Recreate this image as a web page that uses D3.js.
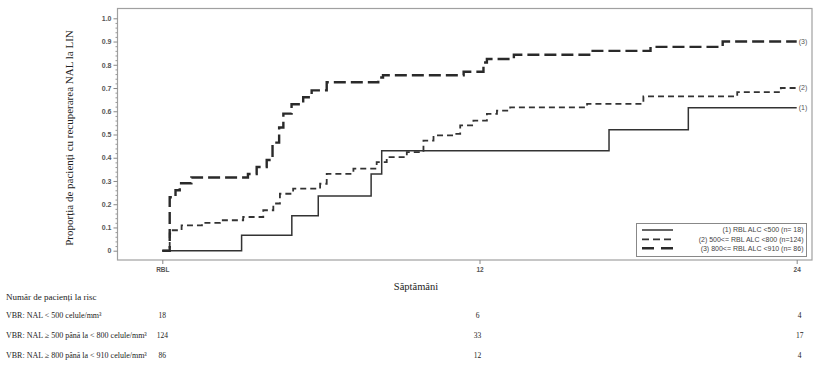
<!DOCTYPE html>
<html>
<head>
<meta charset="utf-8">
<script src="https://cdn.jsdelivr.net/npm/d3@7"></script>
<style>
  html, body { margin: 0; padding: 0; background: #fff; }
  svg { display: block; }
</style>
</head>
<body>
<svg id="chart" width="820" height="368"></svg>
<script>
// ---- Data ----
const xTicks = [0, 12, 24];
const xTickLabels = ["RBL", "12", "24"];
const yTicks = [0, 0.1, 0.2, 0.3, 0.4, 0.5, 0.6, 0.7, 0.8, 0.9, 1.0];
const yTickLabels = ["0", "0.1", "0.2", "0.3", "0.4", "0.5", "0.6", "0.7", "0.8", "0.9", "1.0"];

const series1Weeks = [0, 3, 4.9, 5.9, 7.9, 8.3, 16.9, 19.9, 24];
const series1Values = [0, 0.067, 0.15, 0.235, 0.33, 0.43, 0.52, 0.615, 0.615];

const series2Weeks = [0, 0.28, 0.35, 0.73, 1.5, 2.18, 3.06, 3.82, 4.2, 4.45, 4.95, 5.97, 6.22, 7.23, 8.11, 8.49, 9.25, 9.88, 10.26, 11.02, 11.27, 11.77, 12.28, 12.66, 13.16, 16.07, 18.2, 21.75, 23.4, 24];
const series2Values = [0, 0.074, 0.088, 0.109, 0.12, 0.131, 0.145, 0.174, 0.203, 0.245, 0.267, 0.288, 0.331, 0.353, 0.381, 0.403, 0.424, 0.474, 0.496, 0.503, 0.539, 0.56, 0.589, 0.603, 0.617, 0.632, 0.664, 0.682, 0.70, 0.70];

const series3Weeks = [0, 0.28, 0.5, 0.66, 1.1, 3.24, 3.57, 3.95, 4.17, 4.42, 4.58, 4.89, 5.33, 5.65, 6.22, 8.17, 8.35, 11.4, 12.15, 12.28, 13.3, 16.2, 18.47, 21.2, 24];
const series3Values = [0, 0.23, 0.26, 0.29, 0.315, 0.33, 0.36, 0.39, 0.465, 0.53, 0.59, 0.63, 0.66, 0.69, 0.725, 0.745, 0.755, 0.77, 0.81, 0.825, 0.843, 0.86, 0.877, 0.9, 0.9];

const seriesNames = ["(1) RBL ALC <500 (n= 18)", "(2) 500<= RBL ALC <800 (n=124)", "(3) 800<= RBL ALC <910 (n= 86)"];
const endLabels = ["(1)", "(2)", "(3)"];

const riskTitle = "Număr de pacienți la risc";
const riskRowLabels = [
  "VBR: NAL < 500 celule/mm³",
  "VBR: NAL ≥ 500 până la < 800 celule/mm³",
  "VBR: NAL ≥ 800 până la < 910 celule/mm³"
];
const riskWeeks = [0, 12, 24];
const riskCounts = [
  [18, 6, 4],
  [124, 33, 17],
  [86, 12, 4]
];

const yTitle = "Proporția de pacienți cu recuperarea NAL la LIN";
const xTitle = "Săptămâni";

// ---- Layout ----
const svg = d3.select("#chart");
svg.append("rect").attr("width", 820).attr("height", 368).attr("fill", "#fff");

const frame = { left: 117.5, top: 8.5, right: 812, bottom: 260 };
const x = d3.scaleLinear().domain([0, 24]).range([162.3, 796.7]);
const y = d3.scaleLinear().domain([0, 1]).range([250.7, 18.3]);

const tickFont = "'Liberation Sans', Arial, sans-serif";
const serif = "'Liberation Serif', 'Times New Roman', serif";

// Frame
svg.append("rect")
  .attr("x", frame.left).attr("y", frame.top)
  .attr("width", frame.right - frame.left).attr("height", frame.bottom - frame.top)
  .attr("fill", "none").attr("stroke", "#a0a0a0").attr("stroke-width", 1.2);

// Y axis (major)
const yAxis = d3.axisLeft(y).tickValues(yTicks)
  .tickFormat((d, i) => yTickLabels[i]).tickSize(4).tickPadding(2);
const gy = svg.append("g").attr("transform", `translate(${frame.left},0)`).call(yAxis);
gy.select(".domain").remove();
gy.selectAll("line").attr("stroke", "#888");
gy.selectAll("text").attr("font-family", tickFont).attr("font-size", 7)
  .attr("font-weight", "bold").attr("fill", "#555");

// Y axis (minor)
const minor = d3.range(0, 1.0001, 0.02).filter(v => Math.abs(v * 10 - Math.round(v * 10)) > 1e-6);
const yMinor = d3.axisLeft(y).tickValues(minor).tickFormat("").tickSize(2);
const gym = svg.append("g").attr("transform", `translate(${frame.left},0)`).call(yMinor);
gym.select(".domain").remove();
gym.selectAll("line").attr("stroke", "#999");

// X axis
const xAxis = d3.axisBottom(x).tickValues(xTicks)
  .tickFormat((d, i) => xTickLabels[i]).tickSize(4).tickPadding(3);
const gx = svg.append("g").attr("transform", `translate(0,${frame.bottom})`).call(xAxis);
gx.select(".domain").remove();
gx.selectAll("line").attr("stroke", "#888");
gx.selectAll("text").attr("font-family", tickFont).attr("font-size", 6.5)
  .attr("font-weight", "bold").attr("fill", "#555");

// Lines
const styles = [
  { dash: null, width: 1.5, color: "#333" },
  { dash: "6,4", width: 1.8, color: "#333" },
  { dash: "12,5", width: 2.4, color: "#2a2a2a" }
];
const allSeries = [
  series1Weeks.map((w, i) => [w, series1Values[i]]),
  series2Weeks.map((w, i) => [w, series2Values[i]]),
  series3Weeks.map((w, i) => [w, series3Values[i]])
];
const line = d3.line().x(d => x(d[0])).y(d => y(d[1])).curve(d3.curveStepAfter);

allSeries.forEach((s, i) => {
  svg.append("path").datum(s)
    .attr("d", line)
    .attr("fill", "none")
    .attr("stroke", styles[i].color)
    .attr("stroke-width", styles[i].width)
    .attr("stroke-dasharray", styles[i].dash);
  const last = s[s.length - 1];
  svg.append("text")
    .attr("x", x(last[0]) + 2).attr("y", y(last[1]))
    .attr("dy", "0.35em")
    .attr("font-family", tickFont).attr("font-size", 7)
    .attr("fill", "#555")
    .text(endLabels[i]);
});

// Legend
const lg = svg.append("g");
lg.append("rect").attr("x", 636.5).attr("y", 223.5).attr("width", 170).attr("height", 33)
  .attr("fill", "#fff").attr("stroke", "#888").attr("stroke-width", 1);
const legendY = [230, 239.3, 248.3];
seriesNames.forEach((name, i) => {
  lg.append("line")
    .attr("x1", 642).attr("x2", 673).attr("y1", legendY[i]).attr("y2", legendY[i])
    .attr("stroke", styles[i].color).attr("stroke-width", styles[i].width)
    .attr("stroke-dasharray", i === 1 ? "7,4" : (i === 2 ? "12,7" : null));
  lg.append("text")
    .attr("x", 803.5).attr("y", legendY[i]).attr("dy", "0.35em")
    .attr("text-anchor", "end")
    .attr("font-family", tickFont).attr("font-size", 7)
    .attr("fill", "#444")
    .text(name);
});

// Axis titles
svg.append("text")
  .attr("transform", `translate(69,138) rotate(-90)`)
  .attr("text-anchor", "middle").attr("dy", "0.35em")
  .attr("font-family", serif).attr("font-size", 11).attr("fill", "#222")
  .text(yTitle);

svg.append("text")
  .attr("x", 416).attr("y", 286).attr("dy", "0.35em")
  .attr("text-anchor", "middle")
  .attr("font-family", serif).attr("font-size", 10.5).attr("fill", "#222")
  .text(xTitle);

// Risk table
svg.append("text")
  .attr("x", 6).attr("y", 297).attr("dy", "0.35em")
  .attr("font-family", serif).attr("font-size", 9).attr("fill", "#222")
  .text(riskTitle);

const rowY = [315, 335.5, 355.5];
riskRowLabels.forEach((lab, r) => {
  svg.append("text")
    .attr("x", 6).attr("y", rowY[r]).attr("dy", "0.35em")
    .attr("font-family", serif).attr("font-size", 8).attr("fill", "#222")
    .text(lab);
  riskWeeks.forEach((w, c) => {
    svg.append("text")
      .attr("x", x(w) + (c === 2 ? 3 : (c === 1 ? -2 : 0))).attr("y", rowY[r]).attr("dy", "0.35em")
      .attr("text-anchor", "middle")
      .attr("font-family", serif).attr("font-size", 7.5).attr("fill", "#222")
      .text(riskCounts[r][c]);
  });
});
</script>
</body>
</html>
